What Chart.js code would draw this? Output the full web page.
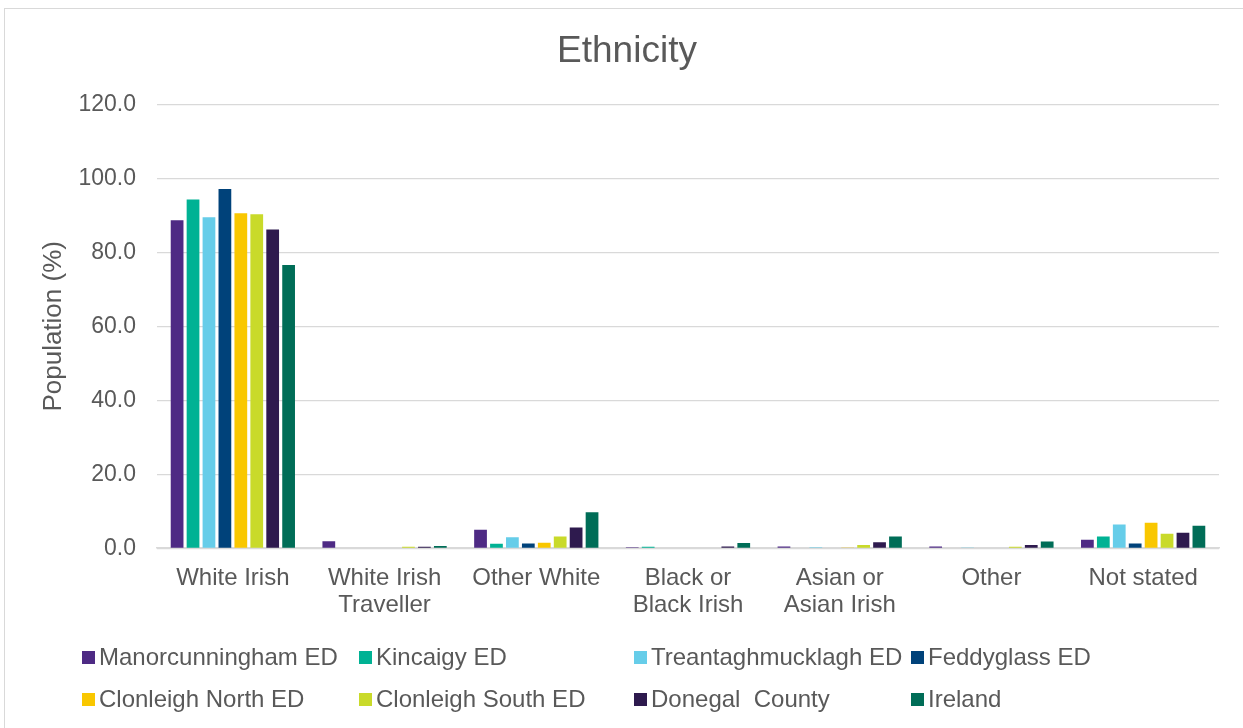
<!DOCTYPE html>
<html>
<head>
<meta charset="utf-8">
<script src="https://cdn.jsdelivr.net/npm/chart.js@4"></script>
<style>
  html, body { margin: 0; padding: 0; background: #fff; }
  #wrap { position: relative; width: 1243px; height: 728px; overflow: hidden; font-family: "Liberation Sans", Arial, sans-serif; }
  #frame { position: absolute; left: 4px; top: 8px; width: 1260px; height: 740px; border: 1px solid #D9D9D9; box-sizing: border-box; }
  #chart { position: absolute; left: 0; top: 0; }
  #legend { position: absolute; left: 0; top: 0; width: 1243px; height: 728px; pointer-events: none; }
  .li { position: absolute; display: flex; align-items: center; font-size: 24px; color: #595959; white-space: nowrap; transform: translateY(-50%); }
  .li span.box { display: inline-block; width: 13px; height: 13px; margin-right: 4px; }
</style>
</head>
<body>
<div id="wrap">
  <div id="frame"></div>
  <canvas id="chart" width="1243" height="728"></canvas>
  <div id="legend"></div>
</div>
<script>
const categories = ["White Irish", ["White Irish", "Traveller"], "Other White", ["Black or", "Black Irish"], ["Asian or", "Asian Irish"], "Other", "Not stated"];
const yTicks = [0, 20, 40, 60, 80, 100, 120];

const seriesNames = ["Manorcunningham ED", "Kincaigy ED", "Treantaghmucklagh ED", "Feddyglass ED", "Clonleigh North ED", "Clonleigh South ED", "Donegal  County", "Ireland"];
const manorcunningham = [88.7, 1.9, 5.0, 0.3, 0.5, 0.5, 2.3];
const kincaigy        = [94.3, 0.0, 1.2, 0.4, 0.1, 0.0, 3.2];
const treantagh       = [89.5, 0.0, 3.0, 0.0, 0.3, 0.2, 6.4];
const feddyglass      = [97.1, 0.0, 1.3, 0.0, 0.0, 0.1, 1.3];
const clonleighNorth  = [90.6, 0.1, 1.5, 0.0, 0.2, 0.1, 6.9];
const clonleighSouth  = [90.3, 0.4, 3.2, 0.0, 0.9, 0.4, 3.9];
const donegal         = [86.2, 0.4, 5.6, 0.45, 1.6, 0.9, 4.2];
const ireland         = [76.6, 0.6, 9.7, 1.4, 3.2, 1.8, 6.1];
const seriesValues = [manorcunningham, kincaigy, treantagh, feddyglass, clonleighNorth, clonleighSouth, donegal, ireland];
const seriesColors = ["#4E2A84", "#00B294", "#66CDE9", "#00427A", "#F9C700", "#C9DA2A", "#2E1A4E", "#006D57"];

const textColor = "#595959";
const font = "'Liberation Sans', Arial, sans-serif";

const chart = new Chart(document.getElementById('chart'), {
  type: 'bar',
  data: {
    labels: categories,
    datasets: seriesNames.map((n, i) => ({
      label: n,
      data: seriesValues[i],
      backgroundColor: seriesColors[i],
      borderWidth: 0,
      categoryPercentage: 0.84,
      barPercentage: 0.8
    }))
  },
  options: {
    responsive: false,
    animation: false,
    layout: { padding: { left: 35, right: 24, top: 0, bottom: 92 } },
    plugins: {
      legend: { display: false },
      tooltip: { enabled: false },
      title: {
        display: true,
        text: 'Ethnicity',
        color: textColor,
        font: { family: font, size: 37, weight: 'normal' },
        padding: { top: 30, bottom: 30 }
      }
    },
    scales: {
      x: {
        grid: { display: false, drawTicks: false },
        border: { display: true, color: '#D9D9D9', width: 1.5 },
        ticks: {
          color: textColor,
          font: { family: font, size: 24, lineHeight: 1.12 },
          padding: 17,
          maxRotation: 0,
          autoSkip: false
        }
      },
      y: {
        min: 0, max: 120,
        afterBuildTicks: (s) => { s.ticks = yTicks.map(v => ({ value: v })); },
        afterFit: (s) => { s.width = 122; },
        grid: { color: '#D9D9D9', lineWidth: 1.2, drawTicks: false },
        border: { display: false },
        ticks: {
          color: textColor,
          font: { family: font, size: 23 },
          padding: 21,
          callback: (v) => Number(v).toFixed(1)
        },
        title: {
          display: true,
          text: 'Population (%)',
          color: textColor,
          font: { family: font, size: 26, lineHeight: 1.2 },
          padding: { top: 3, bottom: 0 }
        }
      }
    }
  }
});

// HTML legend built from the chart's datasets
const legendEl = document.getElementById('legend');
const colX = [82, 359, 634, 911];
const rowY = [657, 699];
chart.data.datasets.forEach((ds, i) => {
  const el = document.createElement('div');
  el.className = 'li';
  el.style.left = colX[i % 4] + 'px';
  el.style.top = rowY[Math.floor(i / 4)] + 'px';
  const box = document.createElement('span');
  box.className = 'box';
  box.style.background = ds.backgroundColor;
  const t = document.createElement('span');
  t.textContent = ds.label;
  t.style.whiteSpace = 'pre';
  el.appendChild(box);
  el.appendChild(t);
  legendEl.appendChild(el);
});
</script>
</body>
</html>
